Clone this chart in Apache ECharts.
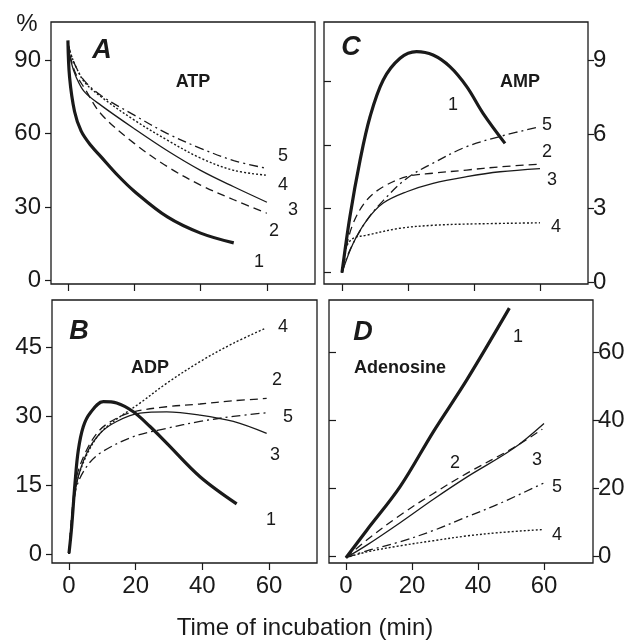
<!DOCTYPE html>
<html>
<head>
<meta charset="utf-8">
<script src="https://cdn.jsdelivr.net/npm/echarts@6/dist/echarts.min.js"></script>
<style>html,body{margin:0;padding:0;background:#fff;}#main{width:629px;height:643px;}</style>
</head>
<body>
<div id="main"></div>
<script>
// ---- Data: [time (min), value] pairs ----
var xTicks = [0, 20, 40, 60];
// Panel A: ATP (%)
var atpTicks = [0, 30, 60, 90];
var atp1 = [[0,98],[0.5,83],[2,69],[4,61],[7,55],[10,50.5],[15,43],[20,36.5],[30,26],[40,19.4],[50,15.4]];
var atp2 = [[0,97],[1,90],[2.5,84],[5,78.5],[10,68],[20,56],[30,46.5],[40,39],[50,33],[60,27.5]];
var atp3 = [[0,97],[1,89],[2.5,83],[5,77],[10,71.5],[20,62],[30,53],[40,45],[50,38.3],[60,32]];
var atp4 = [[0,97],[1,92],[2.5,87],[5,81],[10,75],[20,65.5],[30,57.3],[40,50],[50,45],[60,43]];
var atp5 = [[0,97],[1,92],[2.5,87],[5,81.5],[10,75.5],[20,67.5],[30,60],[40,54],[50,49],[60,45.8]];
// Panel C: AMP
var ampTicks = [0, 3, 6, 9];
var ampInnerTicks = [0.385, 2.98, 5.55, 8.15];
var amp1 = [[0,0.38],[2.4,2.65],[5.5,4.95],[8.5,6.7],[12.5,8.19],[17.6,9.07],[22.6,9.34],[27.6,9.2],[32.7,8.73],[37.8,7.92],[42.8,6.83],[49.4,5.62]];
var amp2 = [[0,0.38],[0.9,1.17],[3.4,2.38],[7.5,3.32],[12.5,3.86],[19.6,4.27],[27.6,4.41],[37.8,4.54],[47.9,4.67],[60,4.78]];
var amp3 = [[0,0.38],[3.4,1.57],[7.5,2.5],[12.5,3.2],[19.6,3.66],[27.6,4.0],[37.8,4.27],[47.9,4.47],[60,4.6]];
var amp4 = [[0,0.38],[1.4,1.43],[3.4,1.77],[7.5,1.9],[17.6,2.18],[27.6,2.3],[37.8,2.35],[60,2.4]];
var amp5 = [[0,0.38],[2.4,1.3],[7.5,2.5],[12.5,3.3],[19.6,4.2],[27.6,4.82],[37.8,5.49],[47.9,5.9],[60,6.3]];
// Panel B: ADP
var adpTicks = [0, 15, 30, 45];
var adp1 = [[0,0.15],[0.8,5.9],[1.8,15.4],[2.8,22.6],[4.3,27.7],[6.3,30.6],[10.3,33.1],[14.3,32.8],[19.3,30.9],[24.3,27.7],[29.3,24.1],[39.3,16.8],[50.3,10.9]];
var adp2 = [[0,0],[1,10],[2.3,16.8],[5.3,22.6],[9.3,27],[14.3,29.5],[19.3,30.9],[29.3,32],[39.3,32.6],[49.3,33.3],[59.3,33.8]];
var adp3 = [[0,0],[1,8.5],[2.3,15.4],[5.3,21.9],[9.3,26.2],[14.3,28.8],[21.3,30.6],[29.3,30.9],[39.3,30.2],[49.3,28.8],[59.3,26.2]];
var adp4 = [[0,0],[1,9],[2.3,15.5],[5.3,21.5],[9.3,26.2],[14.3,29.3],[21.3,32.8],[29.3,37.1],[39.3,41.8],[49.3,45.8],[58.8,49]];
var adp5 = [[0,0],[1,8],[2.3,14.6],[5.3,19],[9.3,21.9],[19.3,25.5],[29.3,27.3],[39.3,28.8],[49.3,29.9],[59.3,30.7]];
// Panel D: Adenosine
var adoTicks = [0, 20, 40, 60];
var ado1 = [[0,-0.5],[6.3,7.6],[16.4,20.4],[26.5,36.6],[36.6,51.8],[49.5,72.9]];
var ado2 = [[0,-0.5],[6.3,4.7],[16.4,12],[26.5,18.4],[36.6,24.3],[50.7,31.8],[59.5,37.3]];
var ado3 = [[0,-0.5],[6.3,3.2],[16.4,9.8],[26.5,16.7],[36.6,23.2],[50.7,31.6],[60,39]];
var ado4 = [[0,-0.5],[6.3,1.2],[16.4,3],[26.5,4.5],[36.6,5.9],[46.7,6.9],[59.8,7.8]];
var ado5 = [[0,-0.5],[6.3,1.5],[16.4,4.2],[26.5,7.5],[36.6,11.5],[46.7,15.5],[59.8,21.4]];

var FONT = '"Liberation Sans", Arial, Helvetica, sans-serif';
var INK = '#1a1a1a';

var styles = {
  1: {width: 3.2, type: 'solid'},
  2: {width: 1.3, type: [8, 5]},
  3: {width: 1.3, type: 'solid'},
  4: {width: 1.4, type: [2, 2]},
  5: {width: 1.3, type: [9, 4, 2, 4]}
};

function line(data, idx, axis) {
  var s = styles[idx];
  return {
    type: 'line', data: data, xAxisIndex: axis.x, yAxisIndex: axis.y,
    showSymbol: false, symbol: 'none', smooth: 0.35,
    lineStyle: {color: INK, width: s.width, type: s.type}, silent: true, z: 3
  };
}

function xAx(grid, min, max, labels) {
  return {
    type: 'value', gridIndex: grid, min: min, max: max, position: 'bottom',
    splitLine: {show: false}, axisLine: {show: false, onZero: false},
    axisTick: {show: true, inside: false, length: 7, customValues: xTicks, lineStyle: {color: INK, width: 1.2}},
    axisLabel: {show: labels, customValues: xTicks, margin: 11, fontSize: 24, color: INK, fontFamily: FONT}
  };
}

function yAx(grid, min, max, pos, ticks, opts) {
  opts = opts || {};
  return {
    type: 'value', gridIndex: grid, min: min, max: max, position: pos,
    splitLine: {show: false}, axisLine: {show: false, onZero: false},
    axisTick: {show: true, inside: !!opts.inside, length: opts.inside ? 7 : 6, customValues: ticks, lineStyle: {color: INK, width: 1.2}},
    axisLabel: {show: !opts.noLabel, customValues: ticks, margin: pos === 'left' ? 10 : 5, fontSize: 24, color: INK, fontFamily: FONT}
  };
}

function txt(x, y, s, size, weight, style) {
  return {
    type: 'text', x: x, y: y, z: 10, silent: true,
    style: {text: s, fill: INK, textAlign: 'center', textVerticalAlign: 'middle',
            font: (style || 'normal') + ' ' + (weight || 'normal') + ' ' + size + 'px ' + FONT}
  };
}

var gridStyle = {show: true, borderColor: INK, borderWidth: 1.3, backgroundColor: 'transparent', containLabel: false};

var option = {
  animation: false,
  backgroundColor: '#fff',
  grid: [
    Object.assign({left: 51, top: 22, width: 264, height: 262}, gridStyle),   // A
    Object.assign({left: 324, top: 22, width: 264, height: 262}, gridStyle),  // C
    Object.assign({left: 52, top: 300, width: 265, height: 263}, gridStyle),  // B
    Object.assign({left: 329, top: 300, width: 264, height: 263}, gridStyle)  // D
  ],
  xAxis: [
    xAx(0, -5.1, 74.5, false),
    xAx(1, -5.45, 74.55, false),
    xAx(2, -5.1, 74.4, true),
    xAx(3, -5.15, 74.85, true)
  ],
  yAxis: [
    yAx(0, -1.35, 105.5, 'left', atpTicks),                         // 0 A
    yAx(1, -0.08, 10.54, 'right', ampTicks),                        // 1 C right
    yAx(1, -0.08, 10.54, 'left', ampInnerTicks, {inside: true, noLabel: true}), // 2 C inner left
    yAx(2, -1.96, 55.2, 'left', adpTicks),                          // 3 B
    yAx(3, -2.06, 75.3, 'right', adoTicks),                         // 4 D right
    yAx(3, -2.06, 75.3, 'left', adoTicks, {inside: true, noLabel: true})        // 5 D inner left
  ],
  series: [
    line(atp1, 1, {x: 0, y: 0}), line(atp2, 2, {x: 0, y: 0}), line(atp3, 3, {x: 0, y: 0}),
    line(atp4, 4, {x: 0, y: 0}), line(atp5, 5, {x: 0, y: 0}),
    line(amp1, 1, {x: 1, y: 1}), line(amp2, 2, {x: 1, y: 1}), line(amp3, 3, {x: 1, y: 1}),
    line(amp4, 4, {x: 1, y: 1}), line(amp5, 5, {x: 1, y: 1}),
    line(adp1, 1, {x: 2, y: 3}), line(adp2, 2, {x: 2, y: 3}), line(adp3, 3, {x: 2, y: 3}),
    line(adp4, 4, {x: 2, y: 3}), line(adp5, 5, {x: 2, y: 3}),
    line(ado1, 1, {x: 3, y: 4}), line(ado2, 2, {x: 3, y: 4}), line(ado3, 3, {x: 3, y: 4}),
    line(ado4, 4, {x: 3, y: 4}), line(ado5, 5, {x: 3, y: 4})
  ],
  graphic: [
    txt(27, 24, '%', 24),
    txt(305, 628, 'Time of incubation (min)', 24),
    // Panel A
    txt(102, 51, 'A', 27, 'bold', 'italic'),
    txt(193, 82, 'ATP', 18, 'bold'),
    txt(283, 156, '5', 18), txt(283, 185, '4', 18), txt(293, 210, '3', 18),
    txt(274, 231, '2', 18), txt(259, 262, '1', 18),
    // Panel C
    txt(351, 48, 'C', 27, 'bold', 'italic'),
    txt(520, 82, 'AMP', 18, 'bold'),
    txt(453, 105, '1', 18), txt(547, 125, '5', 18), txt(547, 152, '2', 18),
    txt(552, 180, '3', 18), txt(556, 227, '4', 18),
    // Panel B
    txt(79, 332, 'B', 27, 'bold', 'italic'),
    txt(150, 368, 'ADP', 18, 'bold'),
    txt(283, 327, '4', 18), txt(277, 380, '2', 18), txt(288, 417, '5', 18),
    txt(275, 455, '3', 18), txt(271, 520, '1', 18),
    // Panel D
    txt(363, 333, 'D', 27, 'bold', 'italic'),
    txt(400, 368, 'Adenosine', 18, 'bold'),
    txt(518, 337, '1', 18), txt(455, 463, '2', 18), txt(537, 460, '3', 18),
    txt(557, 487, '5', 18), txt(557, 535, '4', 18)
  ]
};

var chart = echarts.init(document.getElementById('main'), null, {renderer: 'canvas'});
chart.setOption(option);
</script>
</body>
</html>
